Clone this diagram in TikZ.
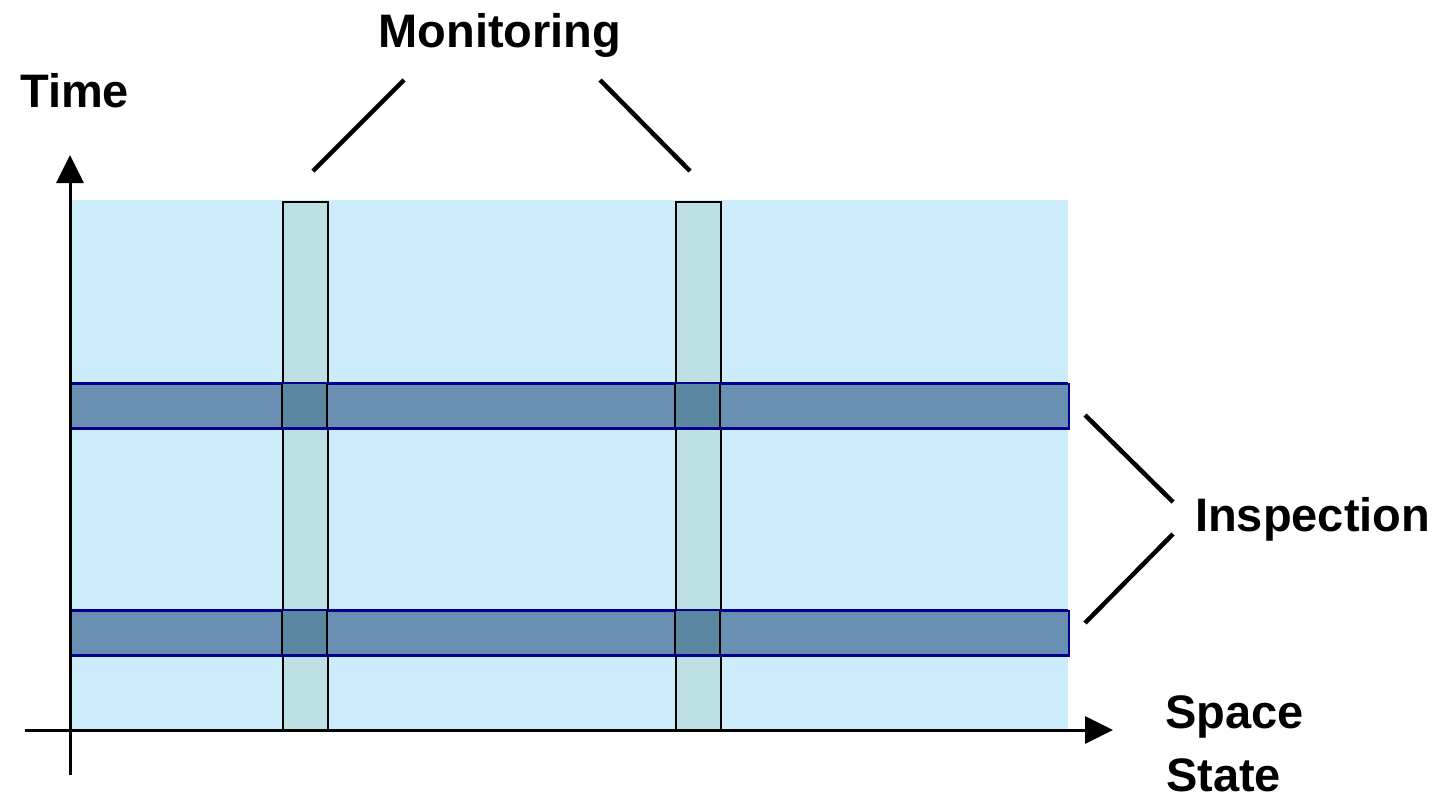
\documentclass[tikz,border=0pt]{standalone}
\usepackage{fontspec}
\setmainfont{Liberation Sans}
\usetikzlibrary{arrows.meta}
\definecolor{bgblue}{RGB}{204,236,252}
\definecolor{vbarcol}{RGB}{188,224,227}
\definecolor{hbarcol}{RGB}{105,143,178}
\definecolor{crosscol}{RGB}{91,135,160}
\definecolor{navy}{RGB}{0,0,140}
\tikzset{
  lbl/.style={font=\fontsize{47}{56}\selectfont\bfseries, inner sep=0pt, anchor=base west},
  vstrip/.style={fill=vbarcol, draw=black, line width=1.5pt, inner sep=0pt, anchor=north west, minimum width=45pt, minimum height=528pt},
  hstrip/.style={fill=hbarcol, draw=navy, line width=1.5pt, inner sep=0pt, anchor=north west, minimum width=998pt, minimum height=45pt},
  crossfill/.style={fill=crosscol},
  axis/.style={line width=3pt, -{Triangle[length=28pt,width=27pt]}},
  leader/.style={line width=4.5pt},
}
\begin{document}
\begin{tikzpicture}[x=1pt,y=-1pt]
\useasboundingbox (0,0) rectangle (1454,801);
% background
\fill[bgblue] (70,200) rectangle (1068,729);
% vertical strips
\node[vstrip] (v1) at (282,201) {};
\node[vstrip] (v2) at (675,201) {};
% horizontal strips
\node[hstrip] (h1) at (70,383) {};
\node[hstrip] (h2) at (70,610) {};
% intersections
\fill[crossfill] (283,384) rectangle (326,427);
\fill[crossfill] (676,384) rectangle (719,427);
\fill[crossfill] (283,611) rectangle (326,654);
\fill[crossfill] (676,611) rectangle (719,654);
\draw[black, line width=1.5pt] (282,383) -- (282,428) (327,383) -- (327,428)
  (675,383) -- (675,428) (720,383) -- (720,428)
  (282,610) -- (282,655) (327,610) -- (327,655)
  (675,610) -- (675,655) (720,610) -- (720,655);
\draw[navy, line width=1.5pt] (70,383) -- (1068,383) (70,428) -- (1068,428)
  (70,610) -- (1068,610) (70,655) -- (1068,655);
% axes
\coordinate (yb) at (70,775);
\coordinate (yt) at (70,155);
\coordinate (xl) at (25,730);
\coordinate (xr) at (1113,730);
\draw[axis] (yb) -- (yt);
\draw[axis] (xl) -- (xr);
% labels
\node[lbl] (time) at (20,107) {Time};
\node[lbl, anchor=base] (mon) at (500,47) {Monitoring};
\node[lbl] (insp) at (1195,531) {Inspection};
\node[lbl] (space) at (1165,728) {Space};
\node[lbl] (state) at (1166,791) {State};
% leaders
\coordinate (m1a) at (404,80); \coordinate (m1b) at (313,171);
\coordinate (m2a) at (600,80); \coordinate (m2b) at (690,171);
\coordinate (i1a) at (1085,415); \coordinate (i1b) at (1173,502);
\coordinate (i2a) at (1173,534); \coordinate (i2b) at (1085,623);
\draw[leader] (m1a) -- (m1b);
\draw[leader] (m2a) -- (m2b);
\draw[leader] (i1a) -- (i1b);
\draw[leader] (i2a) -- (i2b);
\end{tikzpicture}
\end{document}
